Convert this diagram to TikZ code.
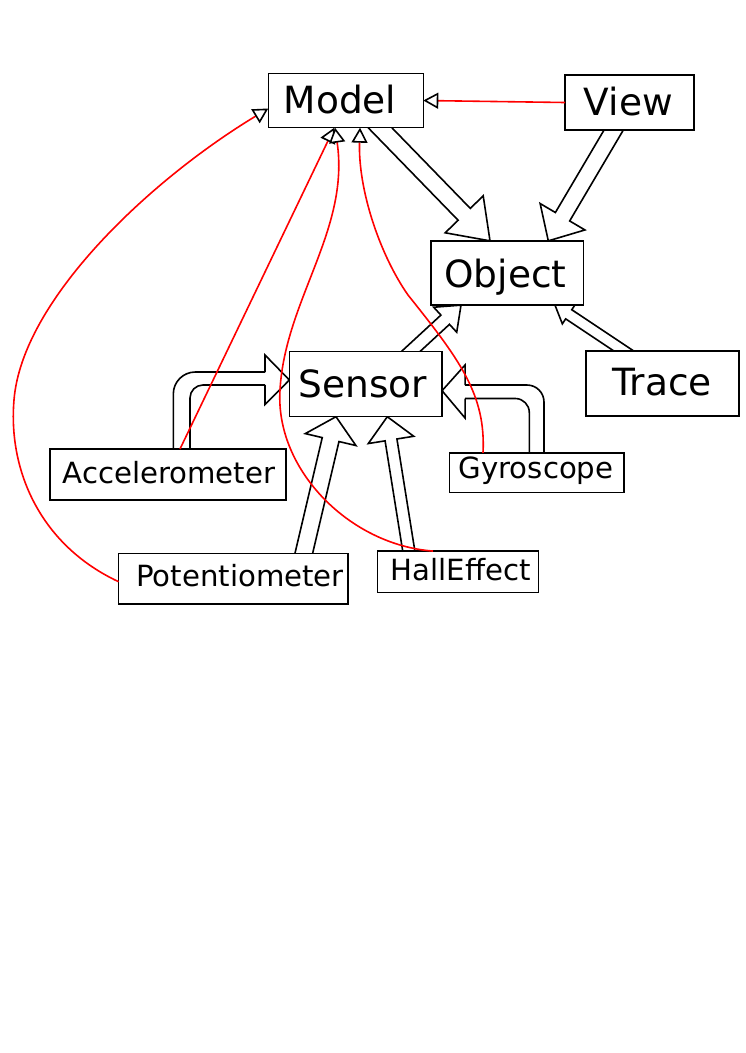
\documentclass[tikz,border=0pt]{standalone}
\usepackage{fontspec}
\setmainfont{DejaVu Sans}
\usetikzlibrary{calc,arrows.meta}
\pgfdeclarelayer{bg}
\pgfsetlayers{bg,main}
\tikzset{
  box/.style={draw=black, line width=1.5pt, fill=white, inner sep=0pt, outer sep=0pt},
  bigtxt/.style={font=\fontsize{37.5pt}{40pt}\selectfont, anchor=base, inner sep=0pt},
  smalltxt/.style={font=\fontsize{29.2pt}{31pt}\selectfont, anchor=base, inner sep=0pt},
  blk/.style={draw=black, line width=1.6pt, line join=miter},
  dep/.style={draw=red, line width=1.6pt, -{Triangle[length=15pt, width=16pt, fill=white, color=black]}},
}
% #1 edge point, #2 tip, #3 half shaft width, #4 half head width, #5 head length
\newcommand\blockarrow[5]{%
  \path ($(#1)!-20pt!(#2)$) coordinate (ba-a) ($(#2)!#5!(#1)$) coordinate (ba-c);
  \draw[blk] ($(ba-a)!#3!90:(#2)$) -- ($(ba-c)!#3!90:(#2)$) -- ($(ba-c)!#4!90:(#2)$) -- (#2)
    -- ($(ba-c)!#4!-90:(#2)$) -- ($(ba-c)!#3!-90:(#2)$) -- ($(ba-a)!#3!-90:(#2)$);
}
\begin{document}
\begin{tikzpicture}[x=1pt,y=-1pt]
\useasboundingbox (0,0) rectangle (745,1053);
% boxes
\node[box, minimum width=155pt, minimum height=54.4pt] (model) at (345.8,100.5) {};
\node[box, minimum width=129pt, minimum height=55pt] (view) at (629.5,102.5) {};
\node[box, minimum width=152.5pt, minimum height=64.3pt] (object) at (507,273) {};
\node[box, minimum width=152.7pt, minimum height=65pt] (sensor) at (365.7,384.2) {};
\node[box, minimum width=153pt, minimum height=65pt] (trace) at (662.5,383.5) {};
\node[box, minimum width=235.7pt, minimum height=51pt] (acc) at (167.9,474.5) {};
\node[box, minimum width=174.5pt, minimum height=39.5pt] (gyro) at (536.8,472.7) {};
\node[box, minimum width=229.6pt, minimum height=50.7pt] (pot) at (233.4,578.7) {};
\node[box, minimum width=161pt, minimum height=41.5pt] (hall) at (458,571.8) {};
% texts
\node[bigtxt] (model-t) at (340,113.5) {Model};
\node[bigtxt] (view-t) at (628.3,115) {View};
\node[bigtxt] (object-t) at (505.5,287) {Object};
\node[bigtxt] (sensor-t) at (363,397.3) {Sensor};
\node[bigtxt] (trace-t) at (662,395) {Trace};
\node[smalltxt] (acc-t) at (169,483) {Accelerometer};
\node[smalltxt] (gyro-t) at (536,478.3) {Gyroscope};
\node[smalltxt] (pot-t) at (240,586.7) {Potentiometer};
\node[smalltxt] (hall-t) at (460.7,580.7) {HallEffect};
% block arrow end points
\coordinate (mo-s) at ($(model.south)+(34.2,0)$);
\coordinate (mo-e) at ($(object.north)+(-17,0)$);
\coordinate (vo-s) at ($(view.south)+(-15.8,0)$);
\coordinate (vo-e) at ($(object.north)+(41.3,0)$);
\coordinate (so-s) at ($(sensor.north)+(44.8,0)$);
\coordinate (so-e) at ($(object.south)+(-46,0)$);
\coordinate (to-s) at ($(trace.north)+(-38.7,0)$);
\coordinate (to-e) at ($(object.south)+(48,0)$);
\coordinate (ps-s) at ($(pot.north)+(70.4,0)$);
\coordinate (ps-e) at ($(sensor.south)+(-29.7,0)$);
\coordinate (hs-s) at ($(hall.north)+(-49.2,0)$);
\coordinate (hs-e) at ($(sensor.south)+(21.6,0)$);
\begin{pgfonlayer}{bg}
\fill[white] (0,0) rectangle (745,1053);
\blockarrow{mo-s}{mo-e}{8.5pt}{26.5pt}{37pt}
\blockarrow{vo-s}{vo-e}{8.3pt}{26pt}{28pt}
\blockarrow{so-s}{so-e}{6.3pt}{17pt}{21.5pt}
\blockarrow{to-s}{to-e}{5.5pt}{11.5pt}{16.5pt}
\blockarrow{ps-s}{ps-e}{8.6pt}{26pt}{23.5pt}
\blockarrow{hs-s}{hs-e}{6pt}{23pt}{23.5pt}
% Accelerometer -> Sensor (bent)
\draw[blk, rounded corners=22pt] ($(acc.north)+(5.4,5)$) |- ($(sensor.west)+(-24.35,-12.2)$);
\draw[blk, rounded corners=13pt] ($(acc.north)+(22.1,5)$) |- ($(sensor.west)+(-24.35,0.8)$);
\draw[blk] ($(sensor.west)+(-24.35,-12.2)$) -- ($(sensor.west)+(-24.35,-29.2)$) -- ($(sensor.west)+(0,-4.2)$)
  -- ($(sensor.west)+(-24.35,20.3)$) -- ($(sensor.west)+(-24.35,0.8)$);
% Gyroscope -> Sensor (bent)
\draw[blk, rounded corners=17pt] ($(gyro.north)+(7.2,5)$) |- ($(sensor.east)+(23,0.8)$);
\draw[blk, rounded corners=14pt] ($(gyro.north)+(-7.5,5)$) |- ($(sensor.east)+(23,14.3)$);
\draw[blk] ($(sensor.east)+(23,0.8)$) -- ($(sensor.east)+(23,-19.2)$) -- ($(sensor.east)+(0,6.5)$)
  -- ($(sensor.east)+(23,33.8)$) -- ($(sensor.east)+(23,14.3)$);
\end{pgfonlayer}
% red dependency connectors
\draw[dep] (view.west) -- (model.east);
\draw[dep] ($(acc.north)+(12.1,0)$) -- ($(model.south)+(-11.5,0)$);
\draw[dep] ($(hall.north)+(-25,0)$) .. controls (350,545) and (275,470) .. (280,390)
  .. controls (285,300) and (350,230) .. ($(model.south)+(-10.8,0)$);
\draw[dep] ($(gyro.north)+(-53.8,0)$) .. controls (486,395) and (460,360) .. (408,295)
  .. controls (380,255) and (358,190) .. ($(model.south)+(14.2,0)$);
\draw[dep] ($(pot.west)+(0,3)$) .. controls (40,545) and (8,470) .. (14,400)
  .. controls (22,300) and (150,180) .. ($(model.west)+(0,8)$);
\end{tikzpicture}
\end{document}
